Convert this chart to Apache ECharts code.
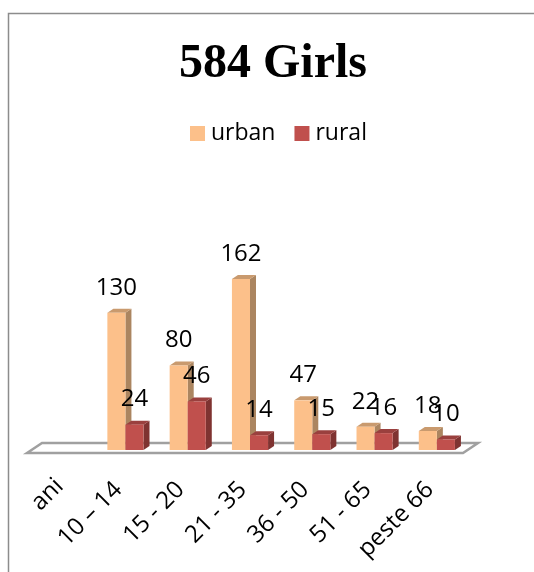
<!DOCTYPE html>
<html>
<head>
<meta charset="utf-8">
<title>584 Girls</title>
<script src="https://cdn.jsdelivr.net/npm/echarts@6/dist/echarts.min.js"></script>
<style>
  html, body { margin: 0; padding: 0; background: #fff; }
  #main { width: 534px; height: 572px; }
</style>
</head>
<body>
<div id="main"></div>
<script>
var categories = ["ani", "10 – 14", "15 - 20", "21 - 35", "36 - 50", "51 - 65", "peste 66"];
var urban = [null, 130, 80, 162, 47, 22, 18];
var rural = [null, 24, 46, 14, 15, 16, 10];

var depthX = 6;
var depthY = 4;
var barRatio = 0.29;
var labelFont = '"Open Sans", sans-serif';

// one 3d looking bar: front, top and side faces plus the value on top
function bar3d(colors, side) {
  return function (params, api) {
    var v = api.value(1);
    if (v === null || isNaN(v)) return;
    var i = api.value(0);
    var top = api.coord([i, v]);
    var base = api.coord([i, 0]);
    var w = api.size([1, 0])[0] * barRatio;
    var x0 = side < 0 ? top[0] - w : top[0];
    var x1 = x0 + w;
    return {
      type: "group",
      children: [
        {
          type: "polygon",
          shape: { points: [[x1, top[1]], [x1 + depthX, top[1] - depthY], [x1 + depthX, base[1] - depthY], [x1, base[1]]] },
          style: { fill: colors[2] }
        },
        {
          type: "polygon",
          shape: { points: [[x0, top[1]], [x0 + depthX, top[1] - depthY], [x1 + depthX, top[1] - depthY], [x1, top[1]]] },
          style: { fill: colors[1] }
        },
        {
          type: "rect",
          shape: { x: x0, y: top[1], width: w, height: base[1] - top[1] },
          style: { fill: colors[0] }
        },
        {
          type: "text",
          z2: 10,
          style: {
            x: (x0 + x1) / 2,
            y: top[1] - 25,
            text: String(v),
            align: "center",
            verticalAlign: "middle",
            fill: "#000",
            font: '24px ' + labelFont
          }
        }
      ]
    };
  };
}

function floor(params, api) {
  var first = api.coord([0, 0]);
  var last = api.coord([categories.length - 1, 0]);
  var half = api.size([1, 0])[0] / 2;
  var l = first[0] - half;
  var r = last[0] + half;
  var y = first[1];
  return {
    type: "polygon",
    shape: { points: [[l - 5, y + 3], [l + 10, y - 7], [r + 10, y - 7], [r - 5, y + 3]] },
    style: { fill: "#fff", stroke: "#a0a0a0", lineWidth: 2.5 }
  };
}

var chart = echarts.init(document.getElementById("main"), null, { renderer: "canvas" });

chart.setOption({
  animation: false,
  backgroundColor: "#fff",
  title: {
    text: "584 Girls",
    left: 174,
    top: 36,
    textStyle: { fontFamily: '"Liberation Serif", serif', fontWeight: "bold", fontSize: 48, color: "#000" }
  },
  legend: {
    data: ["urban", "rural"],
    top: 117,
    left: 185,
    icon: "rect",
    itemWidth: 15,
    itemHeight: 15,
    itemGap: 19,
    textStyle: { fontFamily: labelFont, fontSize: 23, color: "#000", padding: [0, 0, 0, 1] }
  },
  grid: { left: 32, width: 436, top: 186, height: 264 },
  xAxis: {
    type: "category",
    data: categories.map(function (c) {
      // the first label sits a bit closer to its tick in the original
      return c === "ani" ? { value: c, textStyle: { padding: [0, 5, 0, 0] } } : c;
    }),
    axisLine: { show: false },
    axisTick: { show: false },
    axisLabel: {
      interval: 0,
      rotate: 45,
      margin: 29,
      padding: [0, 10, 0, 0],
      fontFamily: labelFont,
      fontSize: 24,
      color: "#000"
    }
  },
  yAxis: { type: "value", min: 0, max: 250, show: false },
  graphic: [{
    type: "polyline",
    silent: true,
    shape: { points: [[8.5, 572], [8.5, 13.5], [534, 13.5]] },
    style: { stroke: "#8c8c8c", lineWidth: 1.5, fill: null }
  }],
  series: [
    {
      name: "floor",
      type: "custom",
      z: 1,
      silent: true,
      clip: false,
      renderItem: floor,
      data: [[0, 0]],
      encode: { x: 0, y: 1 }
    },
    {
      name: "urban",
      type: "custom",
      z: 2,
      clip: false,
      itemStyle: { color: "#fcc08a" },
      renderItem: bar3d(["#fcc08a", "#c99a6e", "#ab8560"], -1),
      data: urban.map(function (v, i) { return [i, v]; }),
      encode: { x: 0, y: 1 }
    },
    {
      name: "rural",
      type: "custom",
      z: 3,
      clip: false,
      itemStyle: { color: "#c0504d" },
      renderItem: bar3d(["#c0504d", "#9a403e", "#7f3331"], 1),
      data: rural.map(function (v, i) { return [i, v]; }),
      encode: { x: 0, y: 1 }
    }
  ]
});
</script>
</body>
</html>
